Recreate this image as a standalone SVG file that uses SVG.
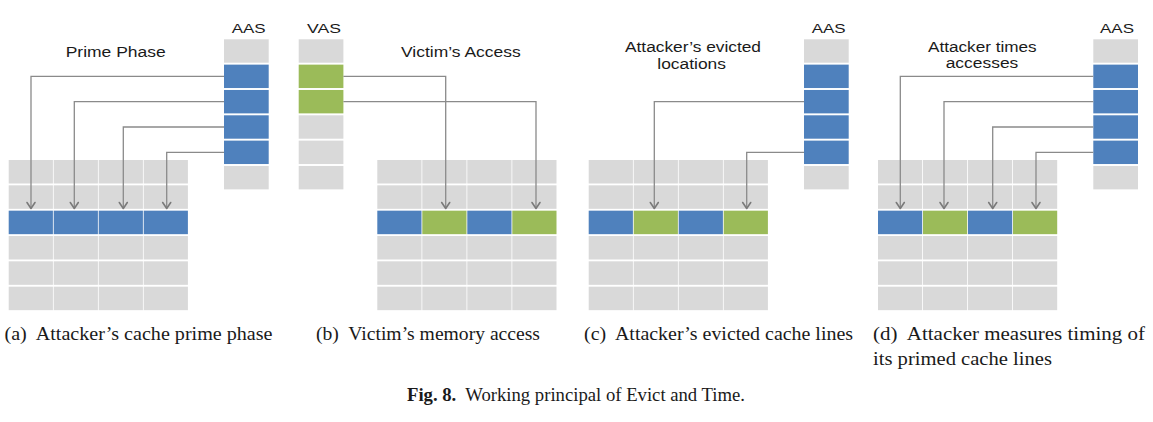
<svg xmlns="http://www.w3.org/2000/svg" width="1153" height="422" viewBox="0 0 1153 422">
<style>
.g{fill:#D9D9D9}
.b{fill:#4F81BD}
.v{fill:#9BBB59}
.lbl{font-family:"Liberation Sans",Arial,sans-serif;font-size:15.5px;fill:#1a1a1a}
.hd{font-family:"Liberation Sans",Arial,sans-serif;font-size:13px;fill:#1a1a1a}
.cap{font-family:"Liberation Serif","Times New Roman",serif;font-size:19px;fill:#1a1a1a;white-space:pre}
.fig{font-family:"Liberation Serif","Times New Roman",serif;font-size:18px;fill:#1a1a1a;white-space:pre}
.con{fill:none;stroke:#8a8a8a;stroke-width:1.3;marker-end:url(#chev)}
</style>
<defs>
<marker id="chev" markerUnits="userSpaceOnUse" viewBox="-9 -6 12 12" markerWidth="12" markerHeight="12" refX="0" refY="0" orient="auto">
<path d="M-6,-4 L0,0 L-6,4" fill="none" stroke="#7a7a7a" stroke-width="1.6" stroke-linejoin="round" stroke-linecap="round"/>
</marker>
<g id="grayrows" class="g">
<rect x="0" y="0" width="44.2" height="23.5"/><rect x="45" y="0" width="44.2" height="23.5"/><rect x="90" y="0" width="44.2" height="23.5"/><rect x="135" y="0" width="44.2" height="23.5"/>
<rect x="0" y="25.33" width="44.2" height="23.5"/><rect x="45" y="25.33" width="44.2" height="23.5"/><rect x="90" y="25.33" width="44.2" height="23.5"/><rect x="135" y="25.33" width="44.2" height="23.5"/>
<rect x="0" y="76" width="44.2" height="23.5"/><rect x="45" y="76" width="44.2" height="23.5"/><rect x="90" y="76" width="44.2" height="23.5"/><rect x="135" y="76" width="44.2" height="23.5"/>
<rect x="0" y="101.33" width="44.2" height="23.5"/><rect x="45" y="101.33" width="44.2" height="23.5"/><rect x="90" y="101.33" width="44.2" height="23.5"/><rect x="135" y="101.33" width="44.2" height="23.5"/>
<rect x="0" y="126.67" width="44.2" height="23.5"/><rect x="45" y="126.67" width="44.2" height="23.5"/><rect x="90" y="126.67" width="44.2" height="23.5"/><rect x="135" y="126.67" width="44.2" height="23.5"/>
</g>
</defs>
<rect width="1153" height="422" fill="#ffffff"/>

<!-- Panel (a) -->
<g id="a-aas">
<rect class="g" x="224" y="39.3" width="44.7" height="23.4"/>
<rect class="b" x="224" y="64.63" width="44.7" height="23.4"/>
<rect class="b" x="224" y="89.97" width="44.7" height="23.4"/>
<rect class="b" x="224" y="115.3" width="44.7" height="23.4"/>
<rect class="b" x="224" y="140.63" width="44.7" height="23.4"/>
<rect class="g" x="224" y="165.97" width="44.7" height="23.4"/>
<text class="hd" x="231.7" y="33" textLength="34" lengthAdjust="spacingAndGlyphs">AAS</text>
</g>
<g id="a-cache">
<use href="#grayrows" x="8.7" y="160"/>
<rect class="b" x="8.7" y="210.67" width="44.2" height="23.5"/>
<rect class="b" x="53.7" y="210.67" width="44.2" height="23.5"/>
<rect class="b" x="98.7" y="210.67" width="44.2" height="23.5"/>
<rect class="b" x="143.7" y="210.67" width="44.2" height="23.5"/>
</g>
<g id="a-label"><text class="lbl" x="65.7" y="56.5" textLength="100" lengthAdjust="spacingAndGlyphs">Prime Phase</text></g>

<!-- Panel (b) -->
<g id="b-vas">
<rect class="g" x="298.7" y="39.3" width="44.7" height="23.4"/>
<rect class="v" x="298.7" y="64.63" width="44.7" height="23.4"/>
<rect class="v" x="298.7" y="89.97" width="44.7" height="23.4"/>
<rect class="g" x="298.7" y="115.3" width="44.7" height="23.4"/>
<rect class="g" x="298.7" y="140.63" width="44.7" height="23.4"/>
<rect class="g" x="298.7" y="165.97" width="44.7" height="23.4"/>
<text class="hd" x="307" y="33" textLength="34" lengthAdjust="spacingAndGlyphs">VAS</text>
</g>
<g id="b-cache">
<use href="#grayrows" x="377.3" y="160"/>
<rect class="b" x="377.3" y="210.67" width="44.2" height="23.5"/>
<rect class="v" x="422.3" y="210.67" width="44.2" height="23.5"/>
<rect class="b" x="467.3" y="210.67" width="44.2" height="23.5"/>
<rect class="v" x="512.3" y="210.67" width="44.2" height="23.5"/>
</g>
<g id="b-label"><text class="lbl" x="401" y="56.5" textLength="119.7" lengthAdjust="spacingAndGlyphs">Victim’s Access</text></g>

<!-- Panel (c) -->
<g id="c-aas">
<rect class="g" x="804" y="39.3" width="44.7" height="23.4"/>
<rect class="b" x="804" y="64.63" width="44.7" height="23.4"/>
<rect class="b" x="804" y="89.97" width="44.7" height="23.4"/>
<rect class="b" x="804" y="115.3" width="44.7" height="23.4"/>
<rect class="b" x="804" y="140.63" width="44.7" height="23.4"/>
<rect class="g" x="804" y="165.97" width="44.7" height="23.4"/>
<text class="hd" x="811.7" y="33" textLength="34" lengthAdjust="spacingAndGlyphs">AAS</text>
</g>
<g id="c-cache">
<use href="#grayrows" x="588.7" y="160"/>
<rect class="b" x="588.7" y="210.67" width="44.2" height="23.5"/>
<rect class="v" x="633.7" y="210.67" width="44.2" height="23.5"/>
<rect class="b" x="678.7" y="210.67" width="44.2" height="23.5"/>
<rect class="v" x="723.7" y="210.67" width="44.2" height="23.5"/>
</g>
<g id="c-label">
<text class="lbl" x="625" y="52.3" textLength="136" lengthAdjust="spacingAndGlyphs">Attacker’s evicted</text>
<text class="lbl" x="657.3" y="69" textLength="68.7" lengthAdjust="spacingAndGlyphs">locations</text>
</g>

<!-- Panel (d) -->
<g id="d-aas">
<rect class="g" x="1093.3" y="39.3" width="44.7" height="23.4"/>
<rect class="b" x="1093.3" y="64.63" width="44.7" height="23.4"/>
<rect class="b" x="1093.3" y="89.97" width="44.7" height="23.4"/>
<rect class="b" x="1093.3" y="115.3" width="44.7" height="23.4"/>
<rect class="b" x="1093.3" y="140.63" width="44.7" height="23.4"/>
<rect class="g" x="1093.3" y="165.97" width="44.7" height="23.4"/>
<text class="hd" x="1100" y="33" textLength="34" lengthAdjust="spacingAndGlyphs">AAS</text>
</g>
<g id="d-cache">
<use href="#grayrows" x="878" y="160"/>
<rect class="b" x="878" y="210.67" width="44.2" height="23.5"/>
<rect class="v" x="923" y="210.67" width="44.2" height="23.5"/>
<rect class="b" x="968" y="210.67" width="44.2" height="23.5"/>
<rect class="v" x="1013" y="210.67" width="44.2" height="23.5"/>
</g>
<g id="d-label">
<text class="lbl" x="928" y="51.7" textLength="108.7" lengthAdjust="spacingAndGlyphs">Attacker times</text>
<text class="lbl" x="945.7" y="67.7" textLength="72.6" lengthAdjust="spacingAndGlyphs">accesses</text>
</g>

<!-- Connectors -->
<g id="connectors">
<path class="con" d="M224,76.3 H31 V208.5"/>
<path class="con" d="M224,101.6 H74.3 V208.5"/>
<path class="con" d="M224,127 H123.3 V208.5"/>
<path class="con" d="M224,152.3 H166.7 V208.5"/>
<path class="con" d="M343.4,76.3 H445.7 V208.5"/>
<path class="con" d="M343.4,101.6 H536 V208.5"/>
<path class="con" d="M804,101.6 H654.3 V208.5"/>
<path class="con" d="M804,152.3 H746.7 V208.5"/>
<path class="con" d="M1093.3,76.3 H900.3 V208.5"/>
<path class="con" d="M1093.3,101.6 H944 V208.5"/>
<path class="con" d="M1093.3,127 H992.7 V208.5"/>
<path class="con" d="M1093.3,152.3 H1036 V208.5"/>
</g>

<!-- Captions -->
<g id="captions" xml:space="preserve">
<text class="cap" x="4.5" y="339.5" textLength="268" lengthAdjust="spacingAndGlyphs">(a)  Attacker’s cache prime phase</text>
<text class="cap" x="316" y="339.5" textLength="224" lengthAdjust="spacingAndGlyphs">(b)  Victim’s memory access</text>
<text class="cap" x="584" y="339.5" textLength="269" lengthAdjust="spacingAndGlyphs">(c)  Attacker’s evicted cache lines</text>
<text class="cap" x="873" y="339.5" textLength="272" lengthAdjust="spacingAndGlyphs">(d)  Attacker measures timing of</text>
<text class="cap" x="873" y="365" textLength="179" lengthAdjust="spacingAndGlyphs">its primed cache lines</text>
<text class="fig" x="407" y="401" textLength="338" lengthAdjust="spacingAndGlyphs"><tspan font-weight="bold">Fig. 8.</tspan>  Working principal of Evict and Time.</text>
</g>
</svg>
